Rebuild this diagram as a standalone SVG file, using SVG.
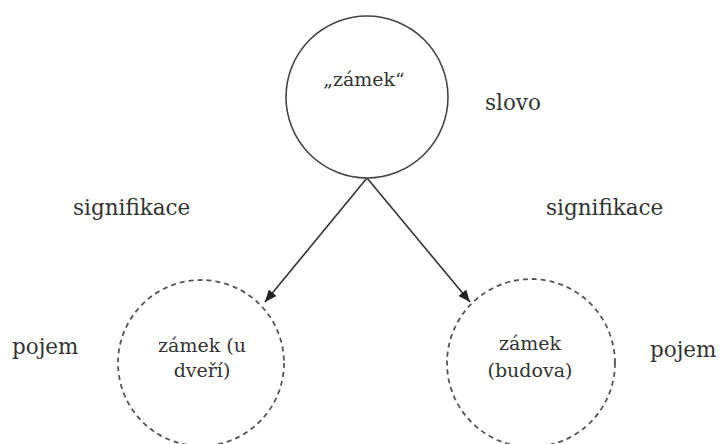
<svg xmlns="http://www.w3.org/2000/svg" width="720" height="444" viewBox="0 0 720 444">
<defs>
<marker id="ah" viewBox="0 0 12 10" refX="12" refY="5" markerWidth="12" markerHeight="10" markerUnits="userSpaceOnUse" orient="auto">
<path d="M0,0 L12,5 L0,10 Z" fill="#222"/>
</marker>
<style>
.t{font-family:"DejaVu Serif","Liberation Serif",serif;fill:#333}
.lbl{font-size:21.5px}
.in{font-size:19px}
.solid{fill:#fff;stroke:#444;stroke-width:1.6}
.dash{fill:none;stroke:#555;stroke-width:1.8;stroke-dasharray:5 4}
.conn{stroke:#333;stroke-width:1.6;fill:none}
</style>
</defs>
<rect width="720" height="444" fill="#fff"/>
<g id="connectors">
<line class="conn" x1="367" y1="178" x2="265" y2="302" marker-end="url(#ah)"/>
<line class="conn" x1="367" y1="178" x2="470" y2="302" marker-end="url(#ah)"/>
</g>
<g id="slovo-node">
<circle class="solid" cx="367" cy="97" r="81"/>
<text class="t in" x="364" y="86" text-anchor="middle">„zámek“</text>
</g>
<g id="pojem-left">
<circle class="dash" cx="201" cy="363" r="83"/>
<text class="t in" x="202" y="352" text-anchor="middle">zámek (u</text>
<text class="t in" x="202" y="377" text-anchor="middle">dveří)</text>
</g>
<g id="pojem-right">
<circle class="dash" cx="531" cy="363" r="84"/>
<text class="t in" x="530" y="350" text-anchor="middle">zámek</text>
<text class="t in" x="530" y="377" text-anchor="middle">(budova)</text>
</g>
<g id="labels">
<text class="t lbl" x="485" y="110">slovo</text>
<text class="t lbl" x="73" y="215">signifikace</text>
<text class="t lbl" x="546" y="215">signifikace</text>
<text class="t lbl" x="12" y="354">pojem</text>
<text class="t lbl" x="650" y="357">pojem</text>
</g>
</svg>
